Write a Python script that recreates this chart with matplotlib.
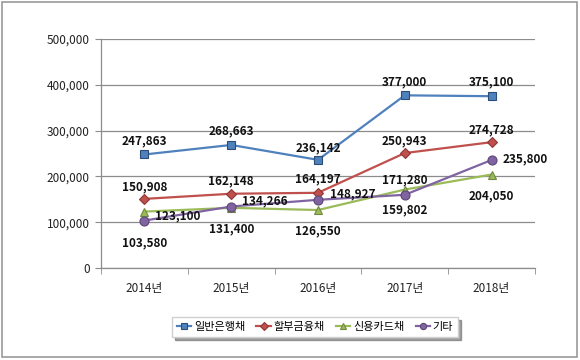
import matplotlib
matplotlib.use("Agg")
import matplotlib.pyplot as plt
from matplotlib.patches import Rectangle
from matplotlib.ticker import FuncFormatter, MultipleLocator

plt.rcParams['font.family'] = ['Noto Sans CJK KR', 'DejaVu Sans']

years = ["2014년", "2015년", "2016년", "2017년", "2018년"]
series_names = ["일반은행채", "할부금융채", "신용카드채", "기타"]
bank = [247863, 268663, 236142, 377000, 375100]
installment = [150908, 162148, 164197, 250943, 274728]
card = [123100, 131400, 126550, 171280, 204050]
other = [103580, 134266, 148927, 159802, 235800]

data = [bank, installment, card, other]
colors = ["#4F81BD", "#C0504D", "#9BBB59", "#8064A2"]
edges = ["#2C4D75", "#8C3836", "#71893F", "#5C4776"]
markers = ["s", "D", "^", "o"]
msizes = [5.5, 5, 6, 6.5]

# label placement per series/point: (dx, dy) in points
offsets = [
    [(0, 10), (0, 10), (0, 9), (0, 10), (0, 10)],
    [(0, 9), (0, 9), (0, 10), (0, 9), (0, 9)],
    [(24, -3), (0, -15), (0, -15), (0, 7), (0, -15)],
    [(0, -16), (24, 4), (25, 4), (0, -11), (24, 1)],
]

fig = plt.figure(figsize=(5.8, 3.6), dpi=100)
ax = fig.add_axes([101/580, 1-268/360, (535-101)/580, (268-39)/360])

x = list(range(len(years)))
for vals, c, ec, m, ms, offs in zip(data, colors, edges, markers, msizes, offsets):
    ax.plot(x, vals, color=c, lw=1.6, marker=m, markersize=ms,
            markerfacecolor=c, markeredgecolor=ec, markeredgewidth=0.8, zorder=3)
    for xi, v, (dx, dy) in zip(x, vals, offs):
        ax.annotate(f"{v:,}", (xi, v), xytext=(dx, dy), textcoords="offset points",
                    ha="center", va="center", fontsize=8.5, fontweight="bold",
                    color="#111111", zorder=4)

ax.set_xlim(-0.5, len(years) - 0.5)
ax.set_ylim(0, 500000)
ax.yaxis.set_major_locator(MultipleLocator(100000))
ax.yaxis.set_major_formatter(FuncFormatter(lambda v, p: f"{int(v):,}"))
ax.set_xticks(x)
ax.set_xticklabels(years)
ax.set_xticks([i - 0.5 for i in range(len(years) + 1)], minor=True)
ax.tick_params(axis='x', which='major', length=0, pad=10, labelsize=8.5, labelcolor="#222222")
ax.tick_params(axis='x', which='minor', length=4, color="#8c8c8c", direction="out")
ax.tick_params(axis='y', length=4, color="#8c8c8c", labelsize=8.5, labelcolor="#222222", pad=4)
ax.grid(axis='y', color="#8c8c8c", lw=0.9)
ax.set_axisbelow(True)
for s in ["top", "right"]:
    ax.spines[s].set_visible(False)
for s in ["left", "bottom"]:
    ax.spines[s].set_color("#8c8c8c")
    ax.spines[s].set_linewidth(0.9)

handles = ax.get_lines()
leg = fig.legend(handles, series_names, loc="center", bbox_to_anchor=(315/580, 1-327/360),
                 ncol=4, fontsize=8, frameon=True, shadow=True, fancybox=False,
                 handlelength=1.3, handletextpad=0.25, columnspacing=1.0,
                 borderpad=0.45, edgecolor="#d0d0d0")
for h in leg.legend_handles:
    h.set_markersize(4.5)

fig.patches.append(Rectangle((2/580, 3/360), 575/580, 355/360, transform=fig.transFigure,
                             fill=False, edgecolor="#9a9a9a", lw=1.2))

fig.savefig("out.png", dpi=100)
